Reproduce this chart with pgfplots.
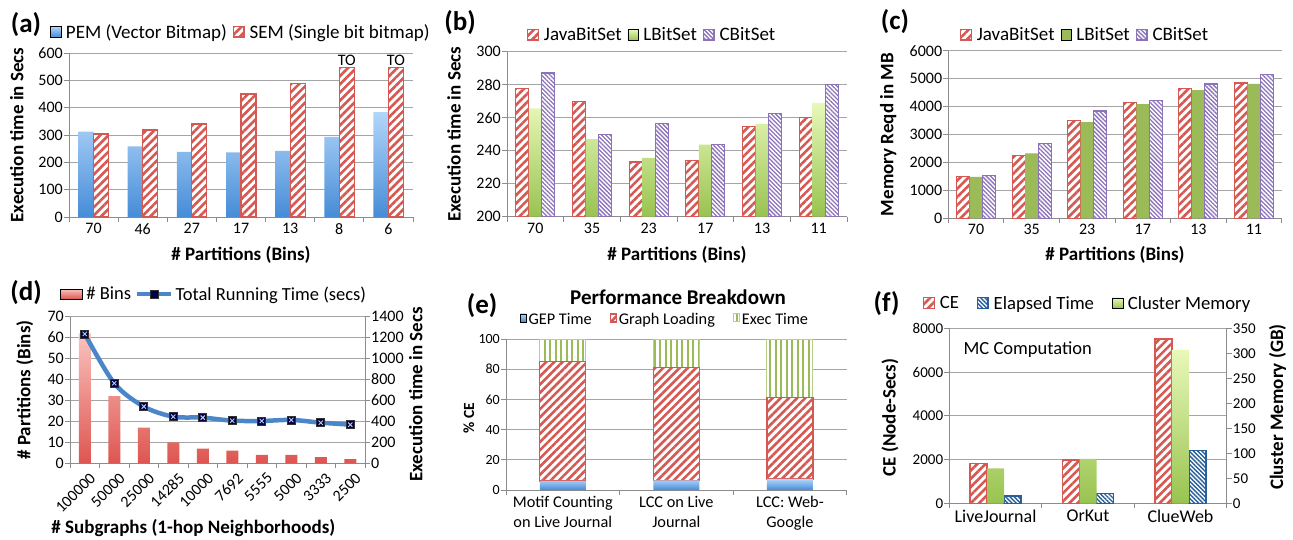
\documentclass[border=0pt]{standalone}
\usepackage{fontspec}
\setmainfont{Carlito}
\usepackage{pgfplots}
\pgfplotsset{compat=1.18}
\usetikzlibrary{patterns.meta}

\definecolor{myred}{RGB}{214,88,82}
\definecolor{bluetop}{RGB}{178,214,250}
\definecolor{bluebot}{RGB}{70,140,215}
\definecolor{greentop}{RGB}{232,248,185}
\definecolor{greenbot}{RGB}{152,195,80}
\definecolor{greensolid}{RGB}{155,187,89}
\definecolor{purp}{RGB}{140,115,185}
\definecolor{pinktop}{RGB}{250,195,190}
\definecolor{pinkbot}{RGB}{222,85,80}
\definecolor{lineblue}{RGB}{75,135,200}
\definecolor{eblue}{RGB}{40,95,155}
\definecolor{gridgray}{RGB}{165,165,165}
\definecolor{axgray}{RGB}{140,140,140}

\tikzset{
 redhatch/.style={preaction={fill=white}, pattern={Lines[angle=45,distance=5.8pt,line width=2.6pt]}, pattern color=myred, draw=myred, line width=1.2pt},
 purphatch/.style={preaction={fill=white}, pattern={Lines[angle=-45,distance=3pt,line width=1.3pt]}, pattern color=purp, draw=purp, line width=1.2pt},
 bluehatch/.style={preaction={fill=white}, pattern={Lines[angle=-45,distance=3pt,line width=1.4pt]}, pattern color=eblue, draw=eblue, line width=1.2pt},
 greenvert/.style={preaction={fill=white}, pattern={Lines[angle=90,distance=5.5pt,line width=2pt]}, pattern color=greensolid, draw=greensolid!70, line width=1pt},
 bluegrad/.style={draw=none, top color=bluetop, bottom color=bluebot},
 greengrad/.style={draw=none, top color=greentop, bottom color=greenbot},
 pinkgrad/.style={draw=none, top color=pinktop, bottom color=pinkbot},
 greenflat/.style={draw=none, fill=greensolid},
 panellabel/.style={font=\bfseries\fontsize{27}{29}\selectfont},
 lab/.style={font=\bfseries\fontsize{19}{21}\selectfont},
}

\pgfplotsset{
 panel/.style={
  scale only axis, anchor=south west,
  axis x line*=bottom, axis y line*=left,
  axis line style={draw=axgray, line width=0.9pt},
  ymajorgrids, grid style={draw=gridgray, line width=0.9pt},
  tick align=outside, major tick length=5pt,
  tick style={draw=axgray, line width=0.9pt},
  tick label style={font=\fontsize{16}{18}\selectfont, inner sep=1pt},
  /pgf/number format/assume math mode=true,
  /pgf/number format/1000 sep={},
  scaled y ticks=false,
  legend style={draw=none, fill=none, font=\fontsize{19}{21}\selectfont, legend columns=-1, anchor=west, inner sep=0pt, /tikz/every even column/.append style={column sep=4pt}},
  legend image code/.code={\draw[##1] (0pt,-5pt) rectangle (10.5pt,5.5pt); \path (0pt,0pt) (13.5pt,0pt);},
  clip=false,
 },
 binlegend/.style={legend image code/.code={\draw[##1] (0pt,-5pt) rectangle (22pt,5pt); \path (0pt,0pt) (24pt,0pt);}},
 linelegend/.style={legend image code/.code={\draw[mark repeat=2,mark phase=2,##1] plot coordinates {(0pt,0pt) (17pt,0pt) (34pt,0pt)};}},
}

\begin{document}
\begin{tikzpicture}
\useasboundingbox (0,0) rectangle (1293pt,539pt);

% ---------------- (a) ----------------
\begin{axis}[panel, at={(69pt,322pt)}, width=344pt, height=164pt,
 xmin=-0.5, xmax=6.5, ymin=0, ymax=600, ytick={0,100,...,600},
 xtick={-0.5,0.5,...,6.5}, xticklabels={70,46,27,17,13,8,6,{}},
 xticklabel style={xshift=24.57pt},
 ylabel={Execution time in Secs}, xlabel={\# Partitions (Bins)},
 every axis y label/.style={at={(axis description cs:-0.152,0.5)}, rotate=90, anchor=center, lab},
 every axis x label/.style={at={(axis description cs:0.5,-0.232)}, anchor=center, lab},
 legend style={at={(axis description cs:-0.055,1.128)}}]
\addplot[ybar, bar width=15pt, bar shift=-7.5pt, bluegrad] coordinates {(0,312) (1,258) (2,238) (3,236) (4,242) (5,293) (6,384)};
\addplot[ybar, bar width=15pt, bar shift=7.5pt, redhatch] coordinates {(0,304) (1,318) (2,340) (3,450) (4,488) (5,548) (6,548)};
\legend{PEM (Vector Bitmap), SEM (Single bit bitmap)}
\node[font=\fontsize{16}{18}\selectfont, anchor=south, inner sep=1pt, xshift=7.5pt] at (axis cs:5,548) {TO};
\node[font=\fontsize{16}{18}\selectfont, anchor=south, inner sep=1pt, xshift=7.5pt] at (axis cs:6,548) {TO};
\node[panellabel] at (axis description cs:-0.125,1.171) {(a)};
\end{axis}

% ---------------- (b) ----------------
\begin{axis}[panel, at={(507pt,322.3pt)}, width=340pt, height=165pt,
 xmin=-0.5, xmax=5.5, ymin=200, ymax=300, ytick={200,220,...,300},
 xtick={-0.5,0.5,...,5.5}, xticklabels={70,35,23,17,13,11,{}},
 xticklabel style={xshift=28.33pt},
 ylabel={Execution time in Secs}, xlabel={\# Partitions (Bins)},
 every axis y label/.style={at={(axis description cs:-0.156,0.5)}, rotate=90, anchor=center, lab},
 every axis x label/.style={at={(axis description cs:0.5,-0.232)}, anchor=center, lab},
 legend style={at={(axis description cs:0.059,1.101)}}]
\addplot[ybar, bar width=13pt, bar shift=-13pt, redhatch] coordinates {(0,277.8) (1,269.8) (2,233.1) (3,233.9) (4,254.5) (5,260)};
\addplot[ybar, bar width=13pt, bar shift=0pt, greengrad] coordinates {(0,265.7) (1,247) (2,235.7) (3,243.7) (4,256.3) (5,269)};
\addplot[ybar, bar width=13pt, bar shift=13pt, purphatch] coordinates {(0,287.1) (1,249.6) (2,256.3) (3,243.9) (4,262.4) (5,280)};
\legend{JavaBitSet, LBitSet, CBitSet}
\node[panellabel] at (axis description cs:-0.138,1.174) {(b)};
\end{axis}

% ---------------- (c) ----------------
\begin{axis}[panel, at={(948.3pt,320.7pt)}, width=333.4pt, height=167.6pt,
 xmin=-0.5, xmax=5.5, ymin=0, ymax=6000, ytick={0,1000,...,6000},
 xtick={-0.5,0.5,...,5.5}, xticklabels={70,35,23,17,13,11,{}},
 xticklabel style={xshift=27.78pt},
 ylabel={Memory Reqd in MB}, xlabel={\# Partitions (Bins)},
 every axis y label/.style={at={(axis description cs:-0.18,0.5)}, rotate=90, anchor=center, lab},
 every axis x label/.style={at={(axis description cs:0.5,-0.219)}, anchor=center, lab},
 legend style={at={(axis description cs:0.035,1.094)}}]
\addplot[ybar, bar width=13pt, bar shift=-13pt, redhatch] coordinates {(0,1491) (1,2240) (2,3491) (3,4132) (4,4635) (5,4844)};
\addplot[ybar, bar width=13pt, bar shift=0pt, greenflat] coordinates {(0,1479) (1,2323) (2,3443) (3,4084) (4,4587) (5,4808)};
\addplot[ybar, bar width=13pt, bar shift=13pt, purphatch] coordinates {(0,1527) (1,2671) (2,3838) (3,4215) (4,4808) (5,5156)};
\legend{JavaBitSet, LBitSet, CBitSet}
\node[panellabel] at (axis description cs:-0.16,1.173) {(c)};
\end{axis}

% ---------------- (d) ----------------
\begin{axis}[panel, at={(70pt,75.7pt)}, width=295pt, height=146.7pt,
 xmin=-0.5, xmax=9.5, ymin=0, ymax=70, ytick={0,10,...,70},
 xtick={-0.5,0.5,...,9.5}, xticklabels={100000,50000,25000,14285,10000,7692,5555,5000,3333,2500,{}},
 xticklabel style={xshift=19pt, yshift=-2pt, rotate=45, anchor=north east},
 ylabel={\# Partitions (Bins)}, xlabel={\# Subgraphs (1-hop Neighborhoods)},
 every axis y label/.style={at={(axis description cs:-0.153,0.5)}, rotate=90, anchor=center, lab},
 every axis x label/.style={at={(axis description cs:0.418,-0.443)}, anchor=center, lab}]
\addplot[ybar, bar width=12pt, bar shift=0pt, pinkgrad] coordinates {(0,62) (1,32) (2,17) (3,10) (4,7) (5,6) (6,4) (7,4) (8,3) (9,2)};
\node[panellabel] at (axis description cs:-0.149,1.161) {(d)};
\end{axis}
\begin{axis}[panel, at={(70pt,75.7pt)}, width=295pt, height=146.7pt,
 axis x line=none, axis y line*=right, ymajorgrids=false,
 xmin=-0.5, xmax=9.5, ymin=0, ymax=1400, ytick={0,200,...,1400},
 ylabel={Execution time in Secs},
 every axis y label/.style={at={(axis description cs:1.172,0.47)}, rotate=90, anchor=center, lab},
 legend style={at={(axis description cs:-0.034,1.154)}, font=\fontsize{18.5}{20}\selectfont, /tikz/every even column/.append style={column sep=2pt}}]
\addlegendimage{pinkgrad, binlegend}
\addlegendentry{\# Bins}
\addplot[lineblue, line width=4.5pt, smooth, mark=square*, mark size=4pt, mark options={fill=black!70!blue, draw=black!80, line width=0.6pt}, linelegend]
 coordinates {(0,1235) (1,764) (2,541) (3,445) (4,436) (5,407) (6,404) (7,414) (8,388) (9,369)};
\addlegendentry{Total Running Time (secs)}
\addplot[only marks, mark=x, mark size=3pt, mark options={draw=lineblue!40!white, line width=0.9pt}, forget plot]
 coordinates {(0,1235) (1,764) (2,541) (3,445) (4,436) (5,407) (6,404) (7,414) (8,388) (9,369)};
\end{axis}

% ---------------- (e) ----------------
\begin{axis}[panel, at={(506pt,49pt)}, width=340.7pt, height=151pt,
 ybar stacked, bar width=46pt,
 xmin=-0.5, xmax=2.5, ymin=0, ymax=100, ytick={0,20,...,100},
 yticklabel style={font=\fontsize{14}{16}\selectfont},
 xtick={-0.5,0.5,...,2.5}, xticklabels={{Motif Counting\\on Live Journal},{LCC on Live\\Journal},{LCC: Web-\\Google},{}},
 xticklabel style={xshift=56.78pt, align=center, font=\fontsize{16.3}{20}\selectfont},
 ylabel={\textbf{\% CE}},
 every axis y label/.style={at={(axis description cs:-0.109,0.477)}, rotate=90, anchor=center, font=\bfseries\fontsize{15.5}{17}\selectfont},
 legend style={at={(axis description cs:0.041,1.126)}, font=\fontsize{16.3}{18}\selectfont, /tikz/every even column/.append style={column sep=16pt}}]
\addplot[bluegrad] coordinates {(0,6.0) (1,6.4) (2,7.3)};
\addplot[redhatch] coordinates {(0,79.0) (1,74.6) (2,53.8)};
\addplot[greenvert] coordinates {(0,15.0) (1,19.0) (2,38.9)};
\legend{GEP Time, Graph Loading, Exec Time}
\node[font=\bfseries\fontsize{21}{23}\selectfont] at (axis description cs:0.505,1.28) {Performance Breakdown};
\node[panellabel] at (axis description cs:-0.07,1.225) {(e)};
\end{axis}

% ---------------- (f) ----------------
\begin{axis}[panel, at={(949.3pt,35.7pt)}, width=277.4pt, height=175pt,
 xmin=-0.5, xmax=2.5, ymin=0, ymax=8000, ytick={0,2000,...,8000},
 yticklabel style={font=\fontsize{15}{17}\selectfont},
 xtick={-0.5,0.5,...,2.5}, xticklabels={LiveJournal,OrKut,ClueWeb,{}},
 xticklabel style={xshift=46.23pt, font=\fontsize{18}{20}\selectfont},
 ylabel={CE (Node-Secs)},
 every axis y label/.style={at={(axis description cs:-0.214,0.49)}, rotate=90, anchor=center, lab}]
\addplot[ybar, bar width=17pt, bar shift=-17pt, redhatch] coordinates {(0,1829) (1,1981) (2,7512)};
\addplot[ybar, bar width=17pt, bar shift=17pt, bluehatch] coordinates {(0,335) (1,457) (2,2408)};
\node[anchor=west, font=\fontsize{18.5}{20}\selectfont] at (axis description cs:0.039,0.876) {MC Computation};
\node[panellabel] at (axis description cs:-0.226,1.143) {(f)};
\end{axis}
\begin{axis}[panel, at={(949.3pt,35.7pt)}, width=277.4pt, height=175pt,
 axis x line=none, axis y line*=right, ymajorgrids=false,
 xmin=-0.5, xmax=2.5, ymin=0, ymax=350, ytick={0,50,...,350},
 yticklabel style={font=\fontsize{15}{17}\selectfont},
 ylabel={Cluster Memory (GB)},
 every axis y label/.style={at={(axis description cs:1.183,0.55)}, rotate=90, anchor=center, lab},
 legend style={at={(axis description cs:-0.095,1.143)}, font=\fontsize{18.7}{20}\selectfont, /tikz/every even column/.append style={column sep=16pt}}]
\addlegendimage{redhatch}
\addlegendentry{CE}
\addlegendimage{bluehatch}
\addlegendentry{Elapsed Time}
\addplot[ybar, bar width=17pt, bar shift=0pt, greengrad] coordinates {(0,70) (1,88.7) (2,306.7)};
\addlegendentry{Cluster Memory}
\end{axis}
\end{tikzpicture}
\end{document}
